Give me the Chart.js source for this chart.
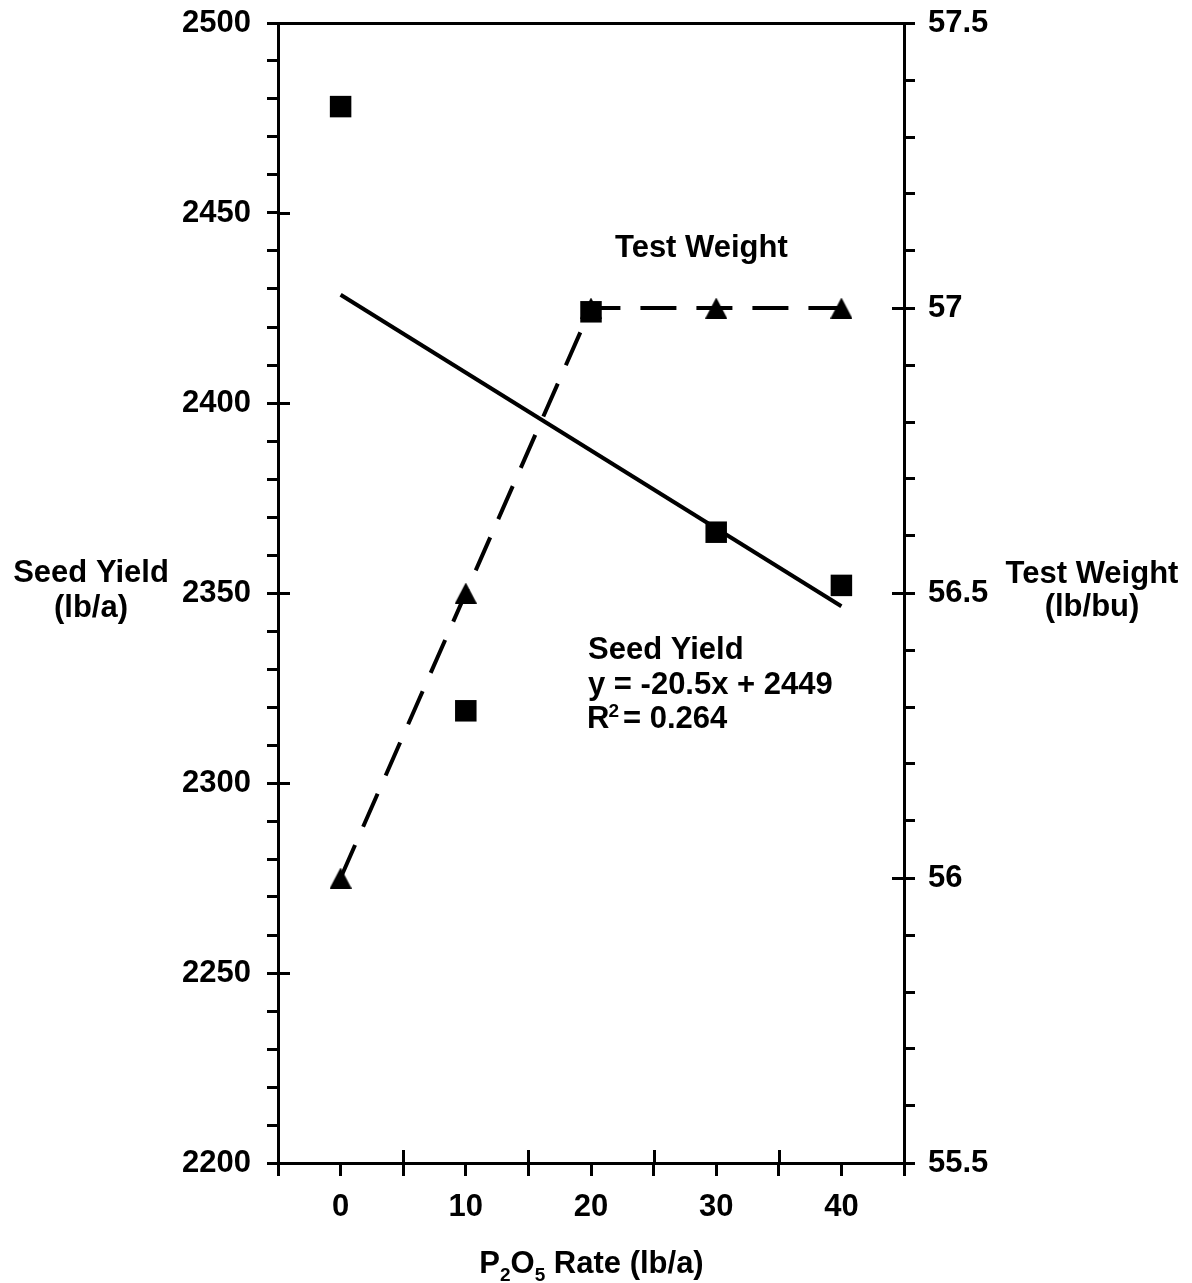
<!DOCTYPE html>
<html>
<head>
<meta charset="utf-8">
<script src="https://cdn.jsdelivr.net/npm/chart.js@4/dist/chart.umd.min.js"></script>
<style>
html, body { margin: 0; padding: 0; background: #ffffff; }
#wrap { position: relative; width: 1192px; height: 1283px; }
canvas { display: block; }
</style>
</head>
<body>
<div id="wrap"><canvas id="c" width="1192" height="1283"></canvas></div>
<script>
// ---- Data ----
const rates = [0, 10, 20, 30, 40];                      // P2O5 rate (lb/a)
const seedYield = [2478, 2319, 2424, 2366, 2352];       // Seed yield (lb/a)
const testWeight = [56.0, 56.5, 57.0, 57.0, 57.0];      // Test weight (lb/bu)
const fitRates = [0, 40];                               // regression line ends
const fitYield = [2428.5, 2346.5];                      // y = -20.5x + 2449 (x = level 1..5)
const xTickLabels = ['0', '10', '20', '30', '40'];
const yieldTickLabels = ['2200', '2250', '2300', '2350', '2400', '2450', '2500'];
const weightTickLabels = ['55.5', '56', '56.5', '57', '57.5'];

const FAMILY = '"Liberation Sans", Arial, Helvetica, sans-serif';
const FONT_SIZE = 31;

function triangleImage(w, h) {
  const c = document.createElement('canvas');
  c.width = w; c.height = h;
  const g = c.getContext('2d');
  g.fillStyle = '#000';
  g.beginPath();
  g.moveTo(w / 2, 0);
  g.lineTo(w, h);
  g.lineTo(0, h);
  g.closePath();
  g.fill();
  return c;
}

function isMultiple(v, step) {
  const q = v / step;
  return Math.abs(q - Math.round(q)) < 1e-6;
}

function noPad(s) {
  s.paddingTop = 0; s.paddingBottom = 0; s.paddingLeft = 0; s.paddingRight = 0;
}

const extras = {
  id: 'extras',
  afterDraw(chart) {
    const ctx = chart.ctx;
    const sx = chart.scales.x, sy = chart.scales.y, sy2 = chart.scales.y2;
    ctx.save();
    ctx.strokeStyle = '#000';
    ctx.lineWidth = 3;
    ctx.lineCap = 'butt';
    // inner halves of the major (crossing) ticks
    sx.ticks.forEach(t => {
      if (!isMultiple(t.value, 10)) {
        const px = Math.round(sx.getPixelForValue(t.value)) + 0.5;
        ctx.beginPath(); ctx.moveTo(px, sx.top); ctx.lineTo(px, sx.top - 13); ctx.stroke();
      }
    });
    sy.ticks.forEach(t => {
      if (isMultiple(t.value, 50)) {
        const py = Math.round(sy.getPixelForValue(t.value)) + 0.5;
        ctx.beginPath(); ctx.moveTo(sy.right, py); ctx.lineTo(sy.right + 12, py); ctx.stroke();
      }
    });
    sy2.ticks.forEach(t => {
      if (isMultiple(t.value, 0.5)) {
        const py = Math.round(sy2.getPixelForValue(t.value)) + 0.5;
        ctx.beginPath(); ctx.moveTo(sy2.left, py); ctx.lineTo(sy2.left - 12, py); ctx.stroke();
      }
    });

    // texts
    ctx.fillStyle = '#000';
    ctx.textBaseline = 'alphabetic';
    const big = 'bold ' + FONT_SIZE + 'px ' + FAMILY;
    const small = 'bold 19px ' + FAMILY;
    ctx.font = big;

    // left axis title
    ctx.textAlign = 'center';
    ctx.fillText('Seed Yield', 91, 582);
    ctx.fillText('(lb/a)', 91, 617);
    // right axis title
    ctx.fillText('Test Weight', 1092, 583);
    ctx.fillText('(lb/bu)', 1092, 616);

    // x axis title with subscripts: P2O5 Rate (lb/a)
    const parts = [['P', big, 0], ['2', small, 7.4], ['O', big, 0], ['5', small, 7.4], [' Rate (lb/a)', big, 0]];
    let total = 0;
    parts.forEach(p => { ctx.font = p[1]; total += ctx.measureText(p[0]).width; });
    let cx = 591.5 - total / 2;
    ctx.textAlign = 'left';
    parts.forEach(p => {
      ctx.font = p[1];
      ctx.fillText(p[0], cx, 1273.3 + p[2]);
      cx += ctx.measureText(p[0]).width;
    });

    // annotations
    ctx.font = big;
    ctx.textAlign = 'left';
    ctx.fillText('Test Weight', 615, 256.7);
    ctx.fillText('Seed Yield', 588, 659.3);
    ctx.fillText('y = -20.5x + 2449', 588, 694);
    ctx.fillText('R', 587, 728.3);
    const rw = ctx.measureText('R').width;
    ctx.font = small;
    ctx.fillText('2', 587 + rw - 1, 716.7);
    ctx.font = big;
    ctx.fillText('= 0.264', 623, 728.3);
    ctx.restore();
  }
};

const tri = triangleImage(22, 21);

const chart = new Chart(document.getElementById('c'), {
  type: 'scatter',
  data: {
    datasets: [
      {
        label: 'Seed Yield',
        data: rates.map((r, i) => ({ x: r, y: seedYield[i] })),
        xAxisID: 'x', yAxisID: 'y',
        pointStyle: 'rect',
        pointRadius: 15.2,
        backgroundColor: '#000',
        borderColor: '#000',
        borderWidth: 0,
        showLine: false
      },
      {
        label: 'Seed Yield fit',
        data: fitRates.map((r, i) => ({ x: r, y: fitYield[i] })),
        xAxisID: 'x', yAxisID: 'y',
        showLine: true,
        borderColor: '#000',
        borderWidth: 4,
        pointRadius: 0,
        fill: false,
        tension: 0
      },
      {
        label: 'Test Weight',
        data: rates.map((r, i) => ({ x: r, y: testWeight[i] })),
        xAxisID: 'x', yAxisID: 'y2',
        showLine: true,
        borderColor: '#000',
        borderWidth: 4,
        borderDash: [36, 20],
        pointStyle: tri,
        pointRadius: 11,
        backgroundColor: '#000',
        fill: false,
        tension: 0
      }
    ]
  },
  options: {
    responsive: false,
    animation: false,
    events: [],
    devicePixelRatio: 1,
    layout: { padding: 0 },
    plugins: { legend: { display: false }, tooltip: { enabled: false } },
    font: { family: FAMILY },
    scales: {
      x: {
        type: 'linear', position: 'bottom',
        min: -5, max: 45,
        afterFit(s) { s.height = 120; noPad(s); },
        ticks: {
          stepSize: 5, autoSkip: false, maxRotation: 0, padding: 13,
          color: '#000',
          font: { family: FAMILY, size: FONT_SIZE, weight: 'bold' },
          callback(v) { const s = String(Math.round(v)); return (isMultiple(v, 1) && xTickLabels.includes(s)) ? s : ''; }
        },
        grid: { drawOnChartArea: false, drawTicks: true, tickLength: 13, tickWidth: 3, tickColor: '#000', lineWidth: 3, color: '#000' },
        border: { display: true, color: '#000', width: 3 }
      },
      xTop: {
        type: 'linear', position: 'top',
        min: -5, max: 45,
        afterFit(s) { s.height = 23; noPad(s); },
        ticks: { display: false },
        grid: { display: false, drawTicks: false, lineWidth: 3 },
        border: { display: true, color: '#000', width: 3 }
      },
      y: {
        type: 'linear', position: 'left',
        min: 2200, max: 2500,
        afterFit(s) { s.width = 278; noPad(s); },
        ticks: {
          stepSize: 10, autoSkip: false, padding: 16,
          color: '#000',
          font: { family: FAMILY, size: FONT_SIZE, weight: 'bold' },
          callback(v) { const s = String(Math.round(v)); return (isMultiple(v, 50) && yieldTickLabels.includes(s)) ? s : ''; }
        },
        grid: { drawOnChartArea: false, drawTicks: true, tickLength: 11, tickWidth: 3, tickColor: '#000', lineWidth: 3, color: '#000' },
        border: { display: true, color: '#000', width: 3 }
      },
      y2: {
        type: 'linear', position: 'right',
        min: 55.5, max: 57.5,
        afterFit(s) { s.width = 288; noPad(s); },
        ticks: {
          stepSize: 0.1, autoSkip: false, padding: 13,
          color: '#000',
          font: { family: FAMILY, size: FONT_SIZE, weight: 'bold' },
          callback(v) { const s = String(Math.round(v * 2) / 2); return (isMultiple(v, 0.5) && weightTickLabels.includes(s)) ? s : ''; }
        },
        grid: { drawOnChartArea: false, drawTicks: true, tickLength: 11, tickWidth: 3, tickColor: '#000', lineWidth: 3, color: '#000' },
        border: { display: true, color: '#000', width: 3 }
      }
    }
  },
  plugins: [extras]
});
</script>
</body>
</html>
